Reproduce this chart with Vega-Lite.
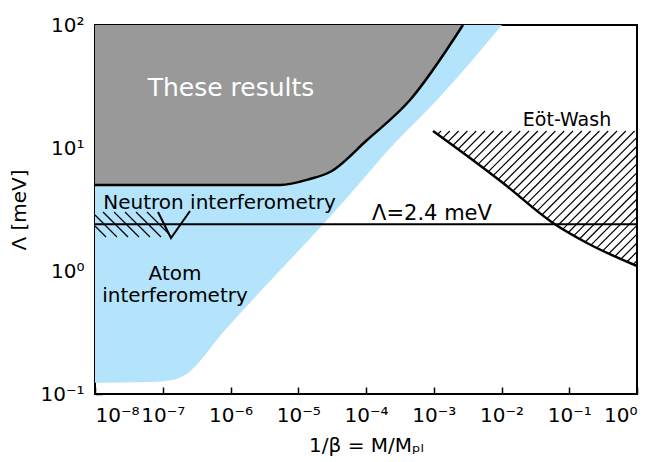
{
  "$schema": "https://vega.github.io/schema/vega-lite/v6.json",
  "width": 542,
  "height": 369,
  "autosize": {"type": "none"},
  "padding": {"left": 95, "top": 25, "right": 18, "bottom": 68},
  "background": "white",
  "config": {
    "view": {"stroke": "black", "strokeWidth": 2},
    "axis": {"grid": false, "domain": false, "ticks": true, "tickOpacity": 1, "zindex": 1, "labelFont": "DejaVu Sans", "titleFont": "DejaVu Sans", "labelColor": "black", "tickColor": "#000000", "titleColor": "black", "labelFontSize": 20, "titleFontSize": 20, "titleFontWeight": "normal", "tickWidth": 1.5}
  },
  "datasets": {
    "blue": [
      {"x": 1e-8, "y": 0.1236}, {"x": 6.48e-8, "y": 0.1252}, {"x": 1.42e-7, "y": 0.130}, {"x": 2.13e-7, "y": 0.1427},
      {"x": 8.3e-7, "y": 0.3314}, {"x": 4.9e-5, "y": 3.777}, {"x": 2.5e-4, "y": 10.58}, {"x": 1.117e-3, "y": 24.56}, {"x": 1.017e-2, "y": 100}
    ],
    "gray": [
      {"x": 1e-8, "y": 5.0}, {"x": 5.38e-6, "y": 5.0}, {"x": 1.49e-5, "y": 5.6}, {"x": 2.94e-5, "y": 6.38},
      {"x": 1.035e-4, "y": 11.61}, {"x": 4.46e-4, "y": 24.56}, {"x": 2.70e-3, "y": 100}
    ],
    "neutron": [
      {"x": 5.85e-8, "y": 3.018, "x2": 1.237e-7, "y2": 2.0},
      {"x": 4.03e-8, "y": 3.018, "x2": 9.42e-8, "y2": 1.889},
      {"x": 2.77e-8, "y": 3.018, "x2": 6.48e-8, "y2": 1.889},
      {"x": 1.91e-8, "y": 3.018, "x2": 4.46e-8, "y2": 1.889},
      {"x": 1.313e-8, "y": 3.018, "x2": 3.07e-8, "y2": 1.889},
      {"x": 1e-8, "y": 2.853, "x2": 2.11e-8, "y2": 1.889},
      {"x": 1e-8, "y": 2.322, "x2": 1.454e-8, "y2": 1.889}
    ],
    "vshape": [
      {"x": 8.51e-8, "y": 3.018}, {"x": 1.323e-7, "y": 1.855}, {"x": 2.525e-7, "y": 3.075}
    ],
    "eothatch": [
      {"x": 1.140e-3, "y": 12.90, "x2": 1.279e-3, "y2": 13.75},
      {"x": 1.356e-3, "y": 12.04, "x2": 1.725e-3, "y2": 13.75},
      {"x": 1.612e-3, "y": 11.23, "x2": 2.327e-3, "y2": 13.75},
      {"x": 1.917e-3, "y": 10.48, "x2": 3.139e-3, "y2": 13.75},
      {"x": 2.280e-3, "y": 9.777, "x2": 4.233e-3, "y2": 13.75},
      {"x": 2.712e-3, "y": 9.125, "x2": 5.707e-3, "y2": 13.75},
      {"x": 3.225e-3, "y": 8.498, "x2": 7.696e-3, "y2": 13.75},
      {"x": 3.822e-3, "y": 7.930, "x2": 1.038e-2, "y2": 13.75},
      {"x": 4.530e-3, "y": 7.384, "x2": 1.400e-2, "y2": 13.75},
      {"x": 5.369e-3, "y": 6.877, "x2": 1.888e-2, "y2": 13.75},
      {"x": 6.363e-3, "y": 6.404, "x2": 2.546e-2, "y2": 13.75},
      {"x": 7.541e-3, "y": 5.966, "x2": 3.434e-2, "y2": 13.75},
      {"x": 8.940e-3, "y": 5.556, "x2": 4.631e-2, "y2": 13.75},
      {"x": 1.059e-2, "y": 5.173, "x2": 6.246e-2, "y2": 13.75},
      {"x": 1.251e-2, "y": 4.809, "x2": 8.424e-2, "y2": 13.75},
      {"x": 1.478e-2, "y": 4.471, "x2": 0.1136, "y2": 13.75},
      {"x": 1.746e-2, "y": 4.156, "x2": 0.1532, "y2": 13.75},
      {"x": 2.063e-2, "y": 3.864, "x2": 0.2066, "y2": 13.75},
      {"x": 2.436e-2, "y": 3.592, "x2": 0.2786, "y2": 13.75},
      {"x": 2.877e-2, "y": 3.339, "x2": 0.3757, "y2": 13.75},
      {"x": 3.388e-2, "y": 3.098, "x2": 0.5067, "y2": 13.75},
      {"x": 4.002e-2, "y": 2.880, "x2": 0.6833, "y2": 13.75},
      {"x": 4.726e-2, "y": 2.677, "x2": 0.9216, "y2": 13.75},
      {"x": 5.583e-2, "y": 2.488, "x2": 1, "y2": 12.20},
      {"x": 6.708e-2, "y": 2.335, "x2": 1, "y2": 10.34},
      {"x": 8.114e-2, "y": 2.199, "x2": 1, "y2": 8.772},
      {"x": 9.781e-2, "y": 2.067, "x2": 1, "y2": 7.438},
      {"x": 0.1183, "y": 1.947, "x2": 1, "y2": 6.310},
      {"x": 0.1426, "y": 1.830, "x2": 1, "y2": 5.351},
      {"x": 0.1719, "y": 1.721, "x2": 1, "y2": 4.538},
      {"x": 0.2101, "y": 1.630, "x2": 1, "y2": 3.849},
      {"x": 0.2577, "y": 1.547, "x2": 1, "y2": 3.265},
      {"x": 0.3170, "y": 1.471, "x2": 1, "y2": 2.769},
      {"x": 0.3888, "y": 1.395, "x2": 1, "y2": 2.348},
      {"x": 0.4767, "y": 1.324, "x2": 1, "y2": 1.992},
      {"x": 0.5844, "y": 1.257, "x2": 1, "y2": 1.689},
      {"x": 0.7193, "y": 1.195, "x2": 1, "y2": 1.433},
      {"x": 0.8819, "y": 1.134, "x2": 1, "y2": 1.215}
    ],
    "eotcurve": [
      {"x": 9.75e-4, "y": 13.75}, {"x": 3.43e-3, "y": 8.29}, {"x": 1.052e-2, "y": 5.19},
      {"x": 5.76e-2, "y": 2.456}, {"x": 0.1828, "y": 1.689}, {"x": 1, "y": 1.098}
    ],
    "lambda": [{"x": 1e-8, "x2": 1, "y": 2.4}],
    "xticks": [
      {"v": 1e-7, "kind": "major"}, {"v": 1e-6, "kind": "major"}, {"v": 1e-5, "kind": "major"}, {"v": 1e-4, "kind": "major"}, {"v": 1e-3, "kind": "major"}, {"v": 1e-2, "kind": "major"}, {"v": 0.1, "kind": "major"},
      {"v": 2e-8, "kind": "minor"}, {"v": 3e-8, "kind": "minor"}, {"v": 4e-8, "kind": "minor"}, {"v": 5e-8, "kind": "minor"}, {"v": 6e-8, "kind": "minor"}, {"v": 7e-8, "kind": "minor"}, {"v": 8e-8, "kind": "minor"}, {"v": 9e-8, "kind": "minor"},
      {"v": 2e-7, "kind": "minor"}, {"v": 3e-7, "kind": "minor"}, {"v": 4e-7, "kind": "minor"}, {"v": 5e-7, "kind": "minor"}, {"v": 6e-7, "kind": "minor"}, {"v": 7e-7, "kind": "minor"}, {"v": 8e-7, "kind": "minor"}, {"v": 9e-7, "kind": "minor"},
      {"v": 2e-6, "kind": "minor"}, {"v": 3e-6, "kind": "minor"}, {"v": 4e-6, "kind": "minor"}, {"v": 5e-6, "kind": "minor"}, {"v": 6e-6, "kind": "minor"}, {"v": 7e-6, "kind": "minor"}, {"v": 8e-6, "kind": "minor"}, {"v": 9e-6, "kind": "minor"},
      {"v": 2e-5, "kind": "minor"}, {"v": 3e-5, "kind": "minor"}, {"v": 4e-5, "kind": "minor"}, {"v": 5e-5, "kind": "minor"}, {"v": 6e-5, "kind": "minor"}, {"v": 7e-5, "kind": "minor"}, {"v": 8e-5, "kind": "minor"}, {"v": 9e-5, "kind": "minor"},
      {"v": 2e-4, "kind": "minor"}, {"v": 3e-4, "kind": "minor"}, {"v": 4e-4, "kind": "minor"}, {"v": 5e-4, "kind": "minor"}, {"v": 6e-4, "kind": "minor"}, {"v": 7e-4, "kind": "minor"}, {"v": 8e-4, "kind": "minor"}, {"v": 9e-4, "kind": "minor"},
      {"v": 2e-3, "kind": "minor"}, {"v": 3e-3, "kind": "minor"}, {"v": 4e-3, "kind": "minor"}, {"v": 5e-3, "kind": "minor"}, {"v": 6e-3, "kind": "minor"}, {"v": 7e-3, "kind": "minor"}, {"v": 8e-3, "kind": "minor"}, {"v": 9e-3, "kind": "minor"},
      {"v": 0.02, "kind": "minor"}, {"v": 0.03, "kind": "minor"}, {"v": 0.04, "kind": "minor"}, {"v": 0.05, "kind": "minor"}, {"v": 0.06, "kind": "minor"}, {"v": 0.07, "kind": "minor"}, {"v": 0.08, "kind": "minor"}, {"v": 0.09, "kind": "minor"},
      {"v": 0.2, "kind": "minor"}, {"v": 0.3, "kind": "minor"}, {"v": 0.4, "kind": "minor"}, {"v": 0.5, "kind": "minor"}, {"v": 0.6, "kind": "minor"}, {"v": 0.7, "kind": "minor"}, {"v": 0.8, "kind": "minor"}, {"v": 0.9, "kind": "minor"}
    ],
    "yticks": [
      {"v": 1, "kind": "major"}, {"v": 10, "kind": "major"},
      {"v": 0.2, "kind": "minor"}, {"v": 0.3, "kind": "minor"}, {"v": 0.4, "kind": "minor"}, {"v": 0.5, "kind": "minor"}, {"v": 0.6, "kind": "minor"}, {"v": 0.7, "kind": "minor"}, {"v": 0.8, "kind": "minor"}, {"v": 0.9, "kind": "minor"},
      {"v": 2, "kind": "minor"}, {"v": 3, "kind": "minor"}, {"v": 4, "kind": "minor"}, {"v": 5, "kind": "minor"}, {"v": 6, "kind": "minor"}, {"v": 7, "kind": "minor"}, {"v": 8, "kind": "minor"}, {"v": 9, "kind": "minor"},
      {"v": 20, "kind": "minor"}, {"v": 30, "kind": "minor"}, {"v": 40, "kind": "minor"}, {"v": 50, "kind": "minor"}, {"v": 60, "kind": "minor"}, {"v": 70, "kind": "minor"}, {"v": 80, "kind": "minor"}, {"v": 90, "kind": "minor"}
    ]
  },
  "encoding": {
    "x": {"field": "x", "type": "quantitative", "scale": {"type": "log", "domain": [1e-8, 1], "nice": false}, "axis": null},
    "y": {"field": "y", "type": "quantitative", "scale": {"type": "log", "domain": [0.1, 100], "nice": false}, "axis": null}
  },
  "resolve": {"axis": {"x": "independent", "y": "independent"}},
  "layer": [
    {
      "data": {"name": "blue"},
      "mark": {"type": "area", "color": "#b3e4fb", "interpolate": "monotone", "opacity": 1},
      "encoding": {
        "x": {"field": "x", "type": "quantitative", "scale": {"type": "log", "domain": [1e-8, 1], "nice": false},
          "axis": {"orient": "bottom", "title": "1/β = M/Mₚₗ", "values": [1e-8, 1e-7, 1e-6, 1e-5, 1e-4, 1e-3, 1e-2, 1e-1, 1], "ticks": true, "offset": -7, "tickSize": 7, "labelPadding": 11, "titlePadding": 10,
            "labelExpr": "'10' + (round(log(datum.value)/LN10) < 0 ? '⁻' : '') + ['⁰','¹','²','³','⁴','⁵','⁶','⁷','⁸','⁹'][abs(round(log(datum.value)/LN10))]"}},
        "y": {"field": "y", "type": "quantitative", "scale": {"type": "log", "domain": [0.1, 100], "nice": false},
          "axis": {"orient": "left", "title": "Λ [meV]", "values": [0.1, 1, 10, 100], "ticks": true, "offset": -7, "tickSize": 7, "labelPadding": 11, "titlePadding": 10,
            "labelExpr": "'10' + (round(log(datum.value)/LN10) < 0 ? '⁻' : '') + ['⁰','¹','²','³','⁴','⁵','⁶','⁷','⁸','⁹'][abs(round(log(datum.value)/LN10))]"}},
        "y2": {"datum": 100}
      }
    },
    {
      "data": {"name": "gray"},
      "mark": {"type": "area", "color": "#999999", "interpolate": "monotone", "opacity": 1},
      "encoding": {"y2": {"datum": 100}}
    },
    {
      "data": {"name": "gray"},
      "mark": {"type": "line", "color": "black", "strokeWidth": 2.5, "interpolate": "monotone"},
      "encoding": {}
    },
    {
      "data": {"name": "neutron"},
      "mark": {"type": "rule", "color": "black", "strokeWidth": 1.2},
      "encoding": {"x2": {"field": "x2"}, "y2": {"field": "y2"}}
    },
    {
      "data": {"name": "vshape"},
      "mark": {"type": "line", "color": "black", "strokeWidth": 2},
      "encoding": {}
    },
    {
      "data": {"name": "eothatch"},
      "mark": {"type": "rule", "color": "black", "strokeWidth": 1.2},
      "encoding": {"x2": {"field": "x2"}, "y2": {"field": "y2"}}
    },
    {
      "data": {"name": "eotcurve"},
      "mark": {"type": "line", "color": "black", "strokeWidth": 2.5, "interpolate": "monotone"},
      "encoding": {}
    },
    {
      "data": {"name": "lambda"},
      "mark": {"type": "rule", "color": "black", "strokeWidth": 2},
      "encoding": {"x2": {"field": "x2"}}
    },
    {
      "data": {"name": "xticks"},
      "transform": [{"filter": "datum.kind == 'major'"}],
      "mark": {"type": "rule", "color": "black", "strokeWidth": 1.2},
      "encoding": {"x": {"field": "v", "type": "quantitative", "scale": {"type": "log", "domain": [1e-8, 1], "nice": false}, "axis": null}, "y": {"datum": 0.1}, "y2": {"datum": 0.114}}
    },
    {
      "data": {"name": "xticks"},
      "transform": [{"filter": "datum.kind == 'minor'"}],
      "mark": {"type": "rule", "color": "black", "strokeWidth": 1.2},
      "encoding": {"x": {"field": "v", "type": "quantitative", "scale": {"type": "log", "domain": [1e-8, 1], "nice": false}, "axis": null}, "y": {"datum": 0.1}, "y2": {"datum": 0.1078}}
    },
    {
      "data": {"name": "xticks"},
      "transform": [{"filter": "datum.kind == 'major'"}],
      "mark": {"type": "rule", "color": "black", "strokeWidth": 1.2},
      "encoding": {"x": {"field": "v", "type": "quantitative", "scale": {"type": "log", "domain": [1e-8, 1], "nice": false}, "axis": null}, "y": {"datum": 100}, "y2": {"datum": 87.7}}
    },
    {
      "data": {"name": "xticks"},
      "transform": [{"filter": "datum.kind == 'minor'"}],
      "mark": {"type": "rule", "color": "black", "strokeWidth": 1.2},
      "encoding": {"x": {"field": "v", "type": "quantitative", "scale": {"type": "log", "domain": [1e-8, 1], "nice": false}, "axis": null}, "y": {"datum": 100}, "y2": {"datum": 92.8}}
    },
    {
      "data": {"name": "yticks"},
      "transform": [{"filter": "datum.kind == 'major'"}],
      "mark": {"type": "rule", "color": "black", "strokeWidth": 1.2},
      "encoding": {"y": {"field": "v", "type": "quantitative", "scale": {"type": "log", "domain": [0.1, 100], "nice": false}, "axis": null}, "x": {"datum": 1e-8}, "x2": {"datum": 1.269e-8}}
    },
    {
      "data": {"name": "yticks"},
      "transform": [{"filter": "datum.kind == 'minor'"}],
      "mark": {"type": "rule", "color": "black", "strokeWidth": 1.2},
      "encoding": {"y": {"field": "v", "type": "quantitative", "scale": {"type": "log", "domain": [0.1, 100], "nice": false}, "axis": null}, "x": {"datum": 1e-8}, "x2": {"datum": 1.146e-8}}
    },
    {
      "data": {"name": "yticks"},
      "transform": [{"filter": "datum.kind == 'major'"}],
      "mark": {"type": "rule", "color": "black", "strokeWidth": 1.2},
      "encoding": {"y": {"field": "v", "type": "quantitative", "scale": {"type": "log", "domain": [0.1, 100], "nice": false}, "axis": null}, "x": {"datum": 1}, "x2": {"datum": 0.788}}
    },
    {
      "data": {"name": "yticks"},
      "transform": [{"filter": "datum.kind == 'minor'"}],
      "mark": {"type": "rule", "color": "black", "strokeWidth": 1.2},
      "encoding": {"y": {"field": "v", "type": "quantitative", "scale": {"type": "log", "domain": [0.1, 100], "nice": false}, "axis": null}, "x": {"datum": 1}, "x2": {"datum": 0.8726}}
    },
    {
      "data": {"values": [{"label": "These results", "x": 1.017e-6, "y": 30.7}]},
      "mark": {"type": "text", "color": "white", "fontSize": 25, "font": "DejaVu Sans", "align": "center", "baseline": "middle"},
      "encoding": {"text": {"field": "label"}}
    },
    {
      "data": {"values": [{"label": "Neutron interferometry", "x": 6.88e-7, "y": 3.571}]},
      "mark": {"type": "text", "color": "black", "fontSize": 20, "font": "DejaVu Sans", "align": "center", "baseline": "middle"},
      "encoding": {"text": {"field": "label"}}
    },
    {
      "data": {"values": [{"label": "Atom", "x": 1.516e-7, "y": 0.9453}, {"label": "interferometry", "x": 1.516e-7, "y": 0.626}]},
      "mark": {"type": "text", "color": "black", "fontSize": 20, "font": "DejaVu Sans", "align": "center", "baseline": "middle"},
      "encoding": {"text": {"field": "label"}}
    },
    {
      "data": {"values": [{"label": "Λ=2.4 meV", "x": 9.42e-4, "y": 2.598}]},
      "mark": {"type": "text", "color": "black", "fontSize": 21, "font": "DejaVu Sans", "align": "center", "baseline": "alphabetic"},
      "encoding": {"text": {"field": "label"}}
    },
    {
      "data": {"values": [{"label": "Eöt-Wash", "x": 9.265e-2, "y": 16.89}]},
      "mark": {"type": "text", "color": "black", "fontSize": 19, "font": "DejaVu Sans", "align": "center", "baseline": "middle"},
      "encoding": {"text": {"field": "label"}}
    }
  ]
}
